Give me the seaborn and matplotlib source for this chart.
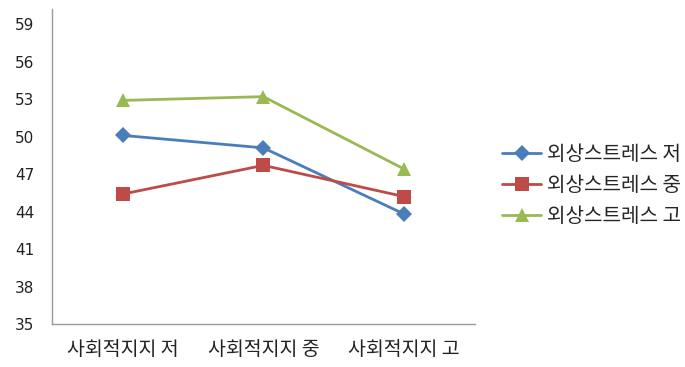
import matplotlib
matplotlib.use("Agg")
import matplotlib.pyplot as plt
import seaborn as sns
import pandas as pd

categories = ["사회적지지 저", "사회적지지 중", "사회적지지 고"]
series_names = ["외상스트레스 저", "외상스트레스 중", "외상스트레스 고"]
values_low = [50.1, 49.1, 43.8]
values_mid = [45.4, 47.7, 45.2]
values_high = [52.9, 53.2, 47.4]
y_ticks = [35, 38, 41, 44, 47, 50, 53, 56, 59]

sns.set_style("white")
plt.rcParams['font.family'] = ['Noto Sans CJK KR', 'DejaVu Sans']

rows = []
for name, vals in zip(series_names, [values_low, values_mid, values_high]):
    for i, (c, v) in enumerate(zip(categories, vals)):
        rows.append({"x": i, "cat": c, "series": name, "value": v})
df = pd.DataFrame(rows)

palette = {series_names[0]: "#4A7EBB", series_names[1]: "#BE4B48", series_names[2]: "#98B954"}
markers = {series_names[0]: "D", series_names[1]: "s", series_names[2]: "^"}
sizes = {series_names[0]: 8.5, series_names[1]: 10, series_names[2]: 10}

fig = plt.figure(figsize=(6.85, 3.67), dpi=100)
ax = fig.add_axes([0.076, 0.117, 0.617, 0.858])

for name in series_names:
    sub = df[df["series"] == name]
    sns.lineplot(data=sub, x="x", y="value", ax=ax, color=palette[name],
                 marker=markers[name], markersize=sizes[name], markeredgewidth=0,
                 linewidth=2, label=name)

ax.set_xlim(-0.5, 2.5)
ax.set_ylim(35, 60.2)
ax.set_yticks(y_ticks)
ax.set_yticklabels([str(t) for t in y_ticks], fontsize=11, color="#222222",
                   family=['DejaVu Sans'])
ax.set_xticks(range(len(categories)))
ax.set_xticklabels(categories, fontsize=14, color="#222222")
ax.tick_params(axis='x', length=0, pad=11)
ax.tick_params(axis='y', length=0, pad=13)
ax.set_xlabel("")
ax.set_ylabel("")
for s in ["top", "right"]:
    ax.spines[s].set_visible(False)
for s in ["left", "bottom"]:
    ax.spines[s].set_color("#999999")
    ax.spines[s].set_linewidth(1)

leg = ax.legend(loc="center left", bbox_to_anchor=(1.022, 0.44), frameon=False,
                fontsize=14.5, handlelength=1.95, labelspacing=0.48, handletextpad=0.28)

fig.savefig("out.png", dpi=100)
